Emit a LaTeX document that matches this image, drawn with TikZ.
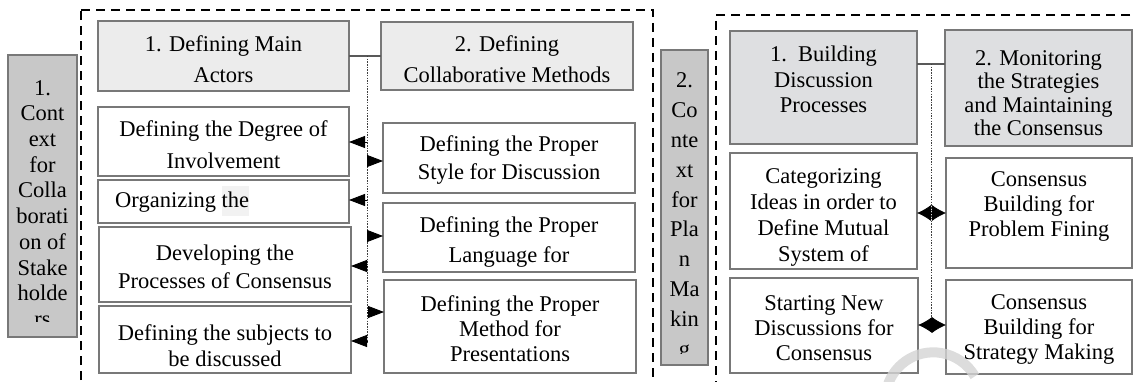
\documentclass[tikz,border=0pt]{standalone}
\usepackage{fontspec}
\setmainfont{Liberation Serif}
\usetikzlibrary{arrows.meta}
\definecolor{hdrL}{RGB}{236,236,236}
\definecolor{hdrR}{RGB}{222,223,225}
\definecolor{sideG}{RGB}{200,200,200}
\definecolor{bord}{RGB}{120,120,120}
\definecolor{wmark}{RGB}{212,212,212}
\newcommand\boxnode[6]{%
  \pgfmathsetmacro\bw{#5-#3}\pgfmathsetmacro\bh{#6-#4}%
  \node[#2, minimum width=\bw pt, minimum height=\bh pt] (#1) at ({(#3+#5)/2},{(#4+#6)/2}) {};}
\tikzset{
  base box/.style={draw=bord, line width=1.1pt, inner sep=0pt, outer sep=0pt, rectangle},
  whitebox/.style={base box, fill=white},
  hdrleft/.style={base box, fill=hdrL},
  hdrright/.style={base box, fill=hdrR},
  sidebox/.style={base box, fill=sideG},
  frame/.style={draw=black, line width=1.5pt, dash pattern=on 9pt off 6pt},
  lab/.style={align=center, inner sep=0pt, text=black},
  sp/.style={font=\fontsize{22.5pt}{#1pt}\selectfont},
  spine/.style={draw=black!75, line width=0.8pt, dash pattern=on 1.5pt off 1.2pt},
  link/.style={draw=black!65, line width=1.2pt},
  arr/.style={draw=black, line width=0.8pt, -{Triangle[length=16pt,width=12pt]}},
  dbl/.style={draw=black, line width=0.8pt, {Latex[length=14pt,width=16pt]}-{Latex[length=14pt,width=16pt]}},
}
\begin{document}
\begin{tikzpicture}[x=1pt,y=-1pt]
\useasboundingbox (0,0) rectangle (1135,382);
\begin{scope}
\clip (0,0) rectangle (1135,382);
% dashed frames
\draw[frame] (81,10) -- (653,10) -- (653,395);
\draw[frame] (81,395) -- (81,10);
\draw[frame] (1145,15) -- (716,15) -- (716,395);

% side boxes
\boxnode{ctx1}{sidebox}{8}{55}{77}{337}
\begin{scope}
\clip (8,55) rectangle (77,321);
\node[lab, sp=25.7] (ctx1t) at (42.5,203.5) {1.\\Cont\\ext\\for\\Colla\\borati\\on of\\Stake\\holde\\rs};
\end{scope}
\boxnode{ctx2}{sidebox}{661}{50}{708}{365}
\begin{scope}
\clip (661,50) rectangle (708,353);
\node[lab, sp=29.8] (ctx2t) at (684.5,217) {2.\\Co\\nte\\xt\\for\\Pla\\n\\Ma\\kin\\g};
\end{scope}

% left group headers
\boxnode{h1}{hdrleft}{98}{21}{349}{91}
\node[lab, sp=31] (h1t) at (223.5,59.5) {1. Defining Main\\Actors};
\boxnode{h2}{hdrleft}{381}{22}{633}{90}
\node[lab, sp=31] (h2t) at (507,59.5) {2. Defining\\Collaborative Methods};

% left column
\boxnode{a1}{whitebox}{98}{107}{349}{176}
\node[lab, sp=32] (a1t) at (223.5,145) {Defining the Degree of\\Involvement};
\boxnode{a2}{whitebox}{98}{180}{349}{223}
\fill[black!5] (222,186) rectangle (249,216);
\node[lab, sp=28, anchor=west] (a2t) at (115,202) {Organizing the};
\boxnode{a3}{whitebox}{99}{227}{351}{302}
\node[lab, sp=28] (a3t) at (225,267) {Developing the\\Processes of Consensus};
\boxnode{a4}{whitebox}{99}{306}{351}{373}
\node[lab, sp=26] (a4t) at (225,346) {Defining the subjects to\\be discussed};

% right column
\boxnode{b1}{whitebox}{383}{123}{635}{193}
\node[lab, sp=28] (b1t) at (509,160) {Defining the Proper\\Style for Discussion};
\boxnode{b2}{whitebox}{383}{203}{635}{272}
\begin{scope}
\clip (383,203) rectangle (635,272);
\node[lab, sp=30] (b2t) at (509,242) {Defining the Proper\\Language for};
\end{scope}
\boxnode{b3}{whitebox}{384}{280}{636}{373}
\node[lab, sp=25] (b3t) at (510,329) {Defining the Proper\\Method for\\Presentations};

% left connectors
\draw[link] (h1.east |- 0,56) -- (h2.west |- 0,56);
\coordinate (s0) at (367,56);
\coordinate (s9) at (367,343);
\draw[spine] (s0) -- (s9);
\coordinate (sa1) at (367,142);
\coordinate (sa2) at (367,200);
\coordinate (sa3) at (367,266);
\coordinate (sa4) at (367,341);
\coordinate (sb1) at (367,161);
\coordinate (sb2) at (367,236);
\coordinate (sb3) at (367,312);
\draw[arr] (sa1) -- (a1.east |- sa1);
\draw[arr] (sa2) -- (a2.east |- sa2);
\draw[arr] (sa3) -- (a3.east |- sa3);
\draw[arr] (sa4) -- (a4.east |- sa4);
\draw[arr] (sb1) -- (b1.west |- sb1);
\draw[arr] (sb2) -- (b2.west |- sb2);
\draw[arr] (sb3) -- (b3.west |- sb3);

% right group
\boxnode{c1}{hdrright}{730}{31}{917}{144}
\node[lab, sp=25.5] (c1t) at (823.5,79.5) {1.\ \ Building\\Discussion\\Processes};
\boxnode{c2}{hdrright}{945}{30}{1132}{146}
\node[lab, sp=23.5] (c2t) at (1038.5,93) {2. Monitoring\\the Strategies\\and Maintaining\\the Consensus};
\boxnode{d1}{whitebox}{730}{153}{917}{269}
\begin{scope}
\clip (730,153) rectangle (917,269);
\node[lab, sp=26] (d1t) at (823.5,217) {Categorizing\\Ideas in order to\\Define Mutual\\System of};
\end{scope}
\boxnode{d2}{whitebox}{730}{278}{918}{373}
\node[lab, sp=25] (d2t) at (824,328) {Starting New\\Discussions for\\Consensus};
\boxnode{e1}{whitebox}{946}{158}{1132}{268}
\node[lab, sp=25] (e1t) at (1039,206) {Consensus\\Building for\\Problem Fining};
\boxnode{e2}{whitebox}{946}{280}{1132}{374}
\node[lab, sp=25] (e2t) at (1039,329) {Consensus\\Building for\\Strategy Making};

\draw[link] (c1.east |- 0,64) -- (c2.west |- 0,64);
\coordinate (r0) at (931,64);
\coordinate (r9) at (931,328);
\draw[spine] (r0) -- (r9);
\coordinate (rd1) at (931,213);
\coordinate (rd2) at (931,325);
\draw[dbl] (d1.east |- rd1) -- (e1.west |- rd1);
\draw[dbl] (d2.east |- rd2) -- (e2.west |- rd2);

% watermark arc
\draw[wmark, line width=10pt, opacity=0.8] (886,392) arc[start angle=190, end angle=330, radius=48];
\end{scope}
\end{tikzpicture}
\end{document}
